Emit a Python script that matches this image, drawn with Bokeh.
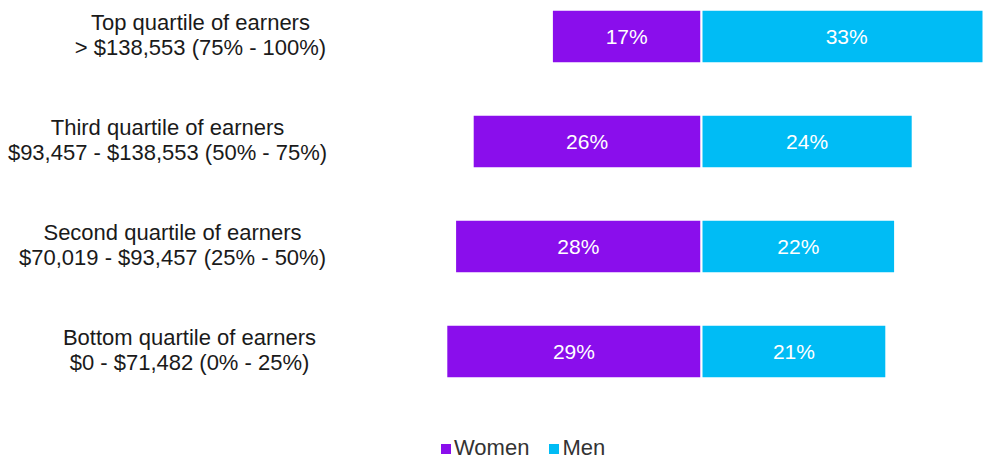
from bokeh.plotting import figure
from bokeh.models import ColumnDataSource, Range1d, Legend, LegendItem
from bokeh.core.properties import value
from bokeh.embed import file_html
from bokeh.resources import INLINE

# ---- data ----
groups = [
    "Top quartile of earners\n> $138,553 (75% - 100%)",
    "Third quartile of earners\n$93,457 - $138,553 (50% - 75%)",
    "Second quartile of earners\n$70,019 - $93,457 (25% - 50%)",
    "Bottom quartile of earners\n$0 - $71,482 (0% - 25%)",
]
women = [17, 26, 28, 29]
men = [33, 24, 22, 21]
series = ["Women", "Men"]

# ---- style / layout ----
W, H = 983, 461
PX = 8.8          # pixels per percentage point
CX = 701          # pixel position of the zero line
ROW = 105         # pixels per category row
TOP = 36          # pixel centre of the first row
LABEL_PX = [200, 167, 172, 189]   # pixel centres of the category label blocks
PURPLE = "#8A0EEC"
CYAN = "#00BCF5"
FONT_NAME = "Liberation Sans"
FONT = value(FONT_NAME)

n = len(groups)
pos = list(range(n - 1, -1, -1))  # top to bottom

src = ColumnDataSource(dict(
    y=pos,
    wl=[-v for v in women],
    mr=men,
    wmid=[-v / 2 for v in women],
    mmid=[v / 2 for v in men],
    wtxt=[f"{v}%" for v in women],
    mtxt=[f"{v}%" for v in men],
    lx=[(px - CX) / PX for px in LABEL_PX],
    ly=[v + 0.015 for v in pos],
    lab=groups,
))

ytop = (n - 1) + TOP / ROW
p = figure(width=W, height=H, output_backend="svg", toolbar_location=None,
           x_range=Range1d(-CX / PX, (W - CX) / PX),
           y_range=Range1d(ytop - H / ROW, ytop),
           x_axis_location=None, y_axis_location=None,
           min_border=0, outline_line_color=None)
p.grid.visible = False

rw = p.hbar(y="y", left="wl", right=0, height=0.51, source=src,
            fill_color=PURPLE, line_color="white", line_width=2)
rm = p.hbar(y="y", left=0, right="mr", height=0.51, source=src,
            fill_color=CYAN, line_color="white", line_width=2)

p.text(x="wmid", y="y", text="wtxt", source=src, text_align="center",
       text_baseline="middle", text_color="white", text_font=FONT,
       text_font_size="21px")
p.text(x="mmid", y="y", text="mtxt", source=src, text_align="center",
       text_baseline="middle", text_color="white", text_font=FONT,
       text_font_size="21px")
p.text(x="lx", y="ly", text="lab", source=src, text_align="center",
       text_baseline="middle", text_color="#1a1a1a", text_font=FONT,
       text_font_size="22px", text_line_height=1.02)

legend = Legend(items=[LegendItem(label=series[0], renderers=[rw]),
                       LegendItem(label=series[1], renderers=[rm])],
                orientation="horizontal", location=(438, 0),
                glyph_width=15, glyph_height=15, label_standoff=1,
                spacing=17, padding=0, margin=0,
                border_line_color=None, background_fill_alpha=0,
                label_text_font=FONT_NAME, label_text_font_size="22px",
                label_text_color="#333333", label_height=22)
p.add_layout(legend)

open("out.html", "w").write(file_html(p, INLINE))
